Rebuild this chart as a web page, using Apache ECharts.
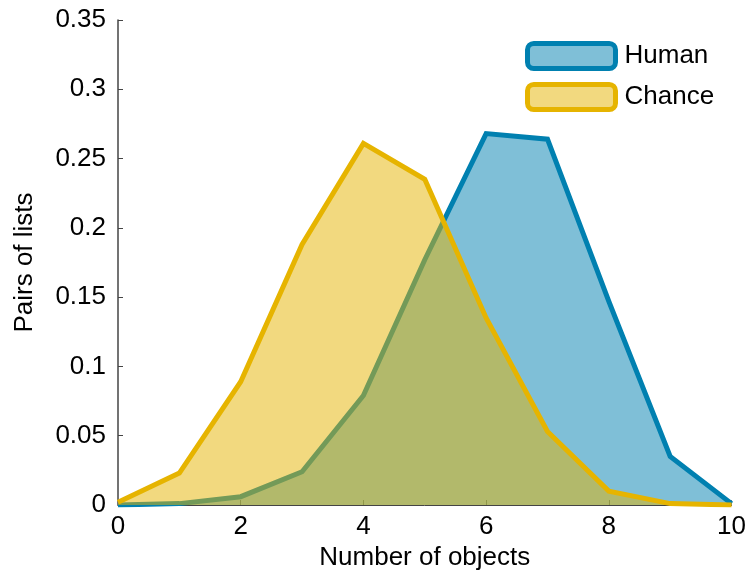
<!DOCTYPE html>
<html>
<head>
<meta charset="utf-8">
<script src="https://cdn.jsdelivr.net/npm/echarts@6/dist/echarts.min.js"></script>
<style>
  html, body { margin: 0; padding: 0; background: #ffffff; }
  #chart { width: 749px; height: 582px; }
</style>
</head>
<body>
<div id="chart"></div>
<script>
// Number of objects shared by a pair of lists
const objectCounts = [0, 1, 2, 3, 4, 5, 6, 7, 8, 9, 10];
// Fraction of list pairs for each count
const humanShare  = [0.000, 0.001, 0.006, 0.024, 0.079, 0.177, 0.268, 0.264, 0.147, 0.035, 0.001];
const chanceShare = [0.002, 0.023, 0.089, 0.188, 0.261, 0.235, 0.135, 0.053, 0.010, 0.001, 0.000];
const yTicks = [0, 0.05, 0.1, 0.15, 0.2, 0.25, 0.3, 0.35];

const humanLine = '#0080b0';
const chanceLine = '#e6b400';
const FONT = 'Liberation Sans, Arial, Helvetica, sans-serif';
const FS = 26;

const pairs = vals => objectCounts.map((x, i) => [x, vals[i]]);

const chart = echarts.init(document.getElementById('chart'), null, { renderer: 'canvas' });
chart.setOption({
  animation: false,
  backgroundColor: '#ffffff',
  grid: { left: 118, right: 16, top: 20, bottom: 77 },
  legend: {
    orient: 'vertical',
    left: 525, top: 41, padding: 0,
    itemWidth: 88, itemHeight: 25, itemGap: 11,
    icon: 'roundRect',
    textStyle: { fontFamily: FONT, fontSize: FS, color: '#000', padding: [0, 0, 0, 4] },
    data: [
      { name: 'Human', itemStyle: { color: 'rgba(0,128,176,0.5)', borderColor: humanLine, borderWidth: 5 } },
      { name: 'Chance', itemStyle: { color: 'rgba(230,180,0,0.5)', borderColor: chanceLine, borderWidth: 5 } }
    ]
  },
  xAxis: {
    type: 'value', min: 0, max: 10, interval: 2,
    name: 'Number of objects', nameLocation: 'middle', nameGap: 37,
    nameTextStyle: { fontFamily: FONT, fontSize: FS, color: '#000' },
    axisLine: { show: true, onZero: false, lineStyle: { color: '#444', width: 1 } },
    axisTick: { show: true, inside: true, length: 5, lineStyle: { color: '#777' } },
    axisLabel: { fontFamily: FONT, fontSize: FS, color: '#000', margin: 9 },
    splitLine: { show: false }
  },
  yAxis: {
    type: 'value', min: 0, max: 0.35, interval: 0.05,
    name: 'Pairs of lists', nameLocation: 'middle', nameGap: 80, nameRotate: 90,
    nameTextStyle: { fontFamily: FONT, fontSize: FS, color: '#000' },
    axisLine: { show: true, lineStyle: { color: '#444', width: 1.5 } },
    axisTick: { show: true, inside: true, length: 5, lineStyle: { color: '#444' } },
    axisLabel: {
      fontFamily: FONT, fontSize: FS, color: '#000', margin: 12,
      formatter: v => {
        const t = yTicks.find(k => Math.abs(k - v) < 1e-9);
        return String(+(t !== undefined ? t : v).toFixed(2));
      }
    },
    splitLine: { show: false }
  },
  series: [
    {
      name: 'Human', type: 'line', data: pairs(humanShare), z: 2,
      showSymbol: false, symbol: 'none',
      lineStyle: { color: humanLine, width: 5, join: 'miter' },
      itemStyle: { color: humanLine },
      areaStyle: { color: humanLine, opacity: 0.5 }
    },
    {
      name: 'Chance', type: 'line', data: pairs(chanceShare), z: 3,
      showSymbol: false, symbol: 'none',
      lineStyle: { color: chanceLine, width: 5, join: 'miter' },
      itemStyle: { color: chanceLine },
      areaStyle: { color: chanceLine, opacity: 0.5 }
    }
  ]
});
</script>
</body>
</html>
